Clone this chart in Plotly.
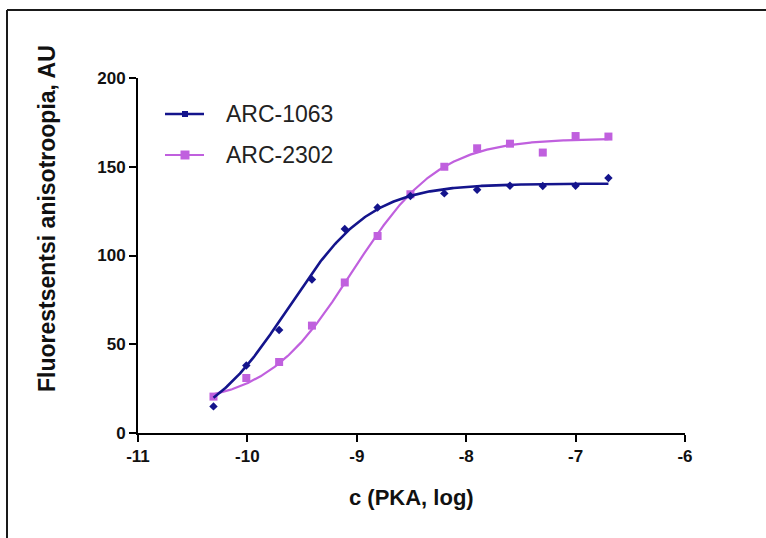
import numpy as np
import plotly.graph_objects as go

# ---- data ----
log_c = [-10.31, -10.01, -9.71, -9.41, -9.11, -8.81, -8.51, -8.20, -7.90, -7.60, -7.30, -7.00, -6.70]
arc_1063 = [15, 38, 58, 86.5, 115, 127, 133.5, 135, 137, 139.3, 139.2, 139.3, 143.7]
arc_2302 = [20.5, 31, 40, 60.5, 84.8, 111, 134.5, 150, 160.4, 163, 158, 167.3, 167]

# sigmoidal dose-response fit parameters (bottom, top, logEC50, hill)
fit_1063 = (0.0, 140.5, -9.63, 1.15)
fit_2302 = (16.0, 166.0, -9.04, 1.1)

series_names = ["ARC-1063", "ARC-2302"]
colors = ["#14148c", "#c060de"]

x_ticks = [-11, -10, -9, -8, -7, -6]
y_ticks = [0, 50, 100, 150, 200]


def four_pl(x, p):
    b, t, ec, h = p
    x = np.asarray(x)
    return b + (t - b) / (1 + 10 ** (h * (ec - x)))


xfit = np.linspace(min(log_c), max(log_c), 300)

fig = go.Figure()

# pink first, blue on top
fig.add_trace(go.Scatter(x=xfit, y=four_pl(xfit, fit_2302), mode="lines",
                         line=dict(color=colors[1], width=2.2), showlegend=False, hoverinfo="skip"))
fig.add_trace(go.Scatter(x=log_c, y=arc_2302, mode="markers", name=series_names[1],
                         marker=dict(symbol="square", size=8, color=colors[1]), showlegend=False))
fig.add_trace(go.Scatter(x=xfit, y=four_pl(xfit, fit_1063), mode="lines",
                         line=dict(color=colors[0], width=2.6), showlegend=False, hoverinfo="skip"))
fig.add_trace(go.Scatter(x=log_c, y=arc_1063, mode="markers", name=series_names[0],
                         marker=dict(symbol="diamond", size=6.5, color=colors[0]), showlegend=False))

L, R, T, B = 138, 81, 78, 105
W, H = 766, 538
PW, PH = W - L - R, H - T - B


def px_x(p):
    return (p - L) / PW


def px_y(p):
    return (H - B - p) / PH


shapes = []
annotations = []

# frame (top and left border of the picture)
shapes.append(dict(type="line", xref="paper", yref="paper", x0=px_x(7), x1=px_x(770),
                   y0=px_y(10), y1=px_y(10), line=dict(color="#1a1a1a", width=2)))
shapes.append(dict(type="line", xref="paper", yref="paper", x0=px_x(7), x1=px_x(7),
                   y0=px_y(10), y1=px_y(545), line=dict(color="#1a1a1a", width=2)))

# manual legend
leg_rows = [114, 155]
for i, (name, col) in enumerate(zip(series_names, colors)):
    yy = px_y(leg_rows[i])
    shapes.append(dict(type="line", xref="paper", yref="paper", x0=px_x(165), x1=px_x(204),
                       y0=yy, y1=yy, line=dict(color=col, width=2.6 if i == 0 else 2.2)))
    half = 3 if i == 0 else 4.5
    shapes.append(dict(type="rect", xref="paper", yref="paper", xsizemode="pixel", ysizemode="pixel",
                       xanchor=px_x(185), yanchor=yy, x0=-half, x1=half, y0=-half, y1=half,
                       fillcolor=col, line=dict(width=0)))
    annotations.append(dict(text=name, xref="paper", yref="paper", x=px_x(224), y=yy,
                            xanchor="left", yanchor="middle", showarrow=False,
                            font=dict(family="Liberation Sans, Arial", size=23, color="#222222")))

# axis titles
annotations.append(dict(text="<b>Fluorestsentsi anisotroopia, AU</b>", xref="paper", yref="paper",
                        x=px_x(47), y=px_y(219), textangle=-90, showarrow=False,
                        xanchor="center", yanchor="middle",
                        font=dict(family="Liberation Sans, Arial", size=23, color="#111111")))
annotations.append(dict(text="<b>c (PKA, log)</b>", xref="paper", yref="paper",
                        x=0.5, y=px_y(497), showarrow=False, xanchor="center", yanchor="middle",
                        font=dict(family="Liberation Sans, Arial", size=22, color="#111111")))

axis_common = dict(showline=True, linecolor="black", linewidth=2, ticks="outside", ticklen=7,
                   tickwidth=2, tickcolor="black", showgrid=False, zeroline=False,
                   tickfont=dict(family="Liberation Sans, Arial", size=17, color="#111111", weight="bold"))

fig.update_layout(
    width=W, height=H,
    margin=dict(l=L, r=R, t=T, b=B),
    paper_bgcolor="white", plot_bgcolor="white",
    xaxis=dict(range=[-11, -6], tickvals=x_ticks, ticktext=[str(v) for v in x_ticks], **axis_common),
    yaxis=dict(range=[0, 200], tickvals=y_ticks, ticktext=[str(v) for v in y_ticks], **axis_common),
    shapes=shapes, annotations=annotations, showlegend=False,
)

fig.write_html("out.html")
